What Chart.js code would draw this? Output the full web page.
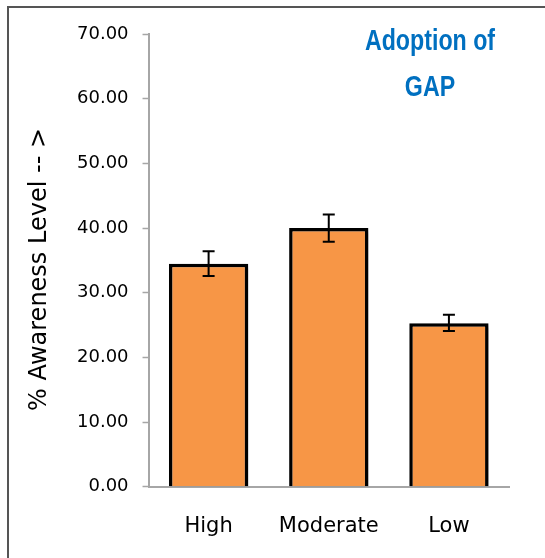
<!DOCTYPE html>
<html>
<head>
<script src="https://cdn.jsdelivr.net/npm/chart.js@4.4.0/dist/chart.umd.min.js"></script>
<style>
  body { margin: 0; background: #fff; }
  #frame {
    position: absolute; left: 0; top: 0; width: 545px; height: 558px;
  }
  #edge {
    position: absolute; left: 7px; top: 6px; width: 545px; height: 560px;
    border-left: 2px solid #555; border-top: 2px solid #555;
  }
</style>
</head>
<body>
<div id="edge"></div>
<div id="frame"><canvas id="awareChart" width="545" height="558"></canvas></div>
<script>
// values
var categories = ["High", "Moderate", "Low"];
var awareness = [34.5, 40.0, 25.3];
var errUpper = [36.4, 42.1, 26.6];
var errLower = [32.6, 37.9, 24.1];
var titleLines = ["Adoption of", "GAP"];
var yTitle = "% Awareness Level -- >";

// soft shadow behind the bars, like the office chart
var barShadow = {
  id: 'barShadow',
  beforeDatasetsDraw: function(chart) {
    var c = chart.ctx;
    c.save();
    c.shadowColor = 'rgba(0,0,0,0.35)';
    c.shadowBlur = 4;
    c.shadowOffsetX = 4;
    c.shadowOffsetY = 3;
  },
  afterDatasetsDraw: function(chart) {
    chart.ctx.restore();
  }
};

// error bars from the upper / lower arrays
var errorBars = {
  id: 'errorBars',
  afterDatasetsDraw: function(chart) {
    var c = chart.ctx;
    var y = chart.scales.y;
    var meta = chart.getDatasetMeta(0);
    c.save();
    c.strokeStyle = '#000';
    c.lineWidth = 2;
    meta.data.forEach(function(bar, i) {
      var top = y.getPixelForValue(errUpper[i]);
      var bot = y.getPixelForValue(errLower[i]);
      c.beginPath();
      c.moveTo(bar.x, top); c.lineTo(bar.x, bot);
      c.moveTo(bar.x - 6, top); c.lineTo(bar.x + 6, top);
      c.moveTo(bar.x - 6, bot); c.lineTo(bar.x + 6, bot);
      c.stroke();
    });
    c.restore();
  }
};

// blue title inside the plot (squeezed to look narrow) + the y axis title
var extraText = {
  id: 'extraText',
  afterDraw: function(chart) {
    var c = chart.ctx;
    var a = chart.chartArea;
    c.save();
    c.translate(a.right - 79, 0);
    c.scale(0.8, 1);
    c.fillStyle = '#0070C0';
    c.font = 'bold 29px "Liberation Sans", Arial, sans-serif';
    c.textAlign = 'center';
    c.textBaseline = 'middle';
    titleLines.forEach(function(t, i) {
      c.fillText(t, 0, a.top + 8 + i * 46);
    });
    c.restore();

    c.save();
    c.translate(40, a.top + (a.bottom - a.top) * 0.52);
    c.rotate(-Math.PI / 2);
    c.fillStyle = '#000';
    c.font = '24px "DejaVu Sans"';
    c.textAlign = 'center';
    c.textBaseline = 'middle';
    c.fillText(yTitle, 0, 0);
    c.restore();
  }
};

var ctx = document.getElementById("awareChart").getContext('2d');
var awareChart = new Chart(ctx, {
  type: 'bar',
  data: {
    labels: categories,
    datasets: [{
      data: awareness,
      backgroundColor: '#F79646',
      borderColor: '#000',
      borderWidth: 3.5,
      borderSkipped: 'bottom',
      barPercentage: 0.66,
      categoryPercentage: 1.0
    }]
  },
  options: {
    responsive: false,
    animation: false,
    layout: { padding: { left: 63, right: 36, top: 34, bottom: 0 } },
    plugins: {
      legend: { display: false },
      tooltip: { enabled: false }
    },
    scales: {
      x: {
        grid: { display: false },
        border: { color: '#a6a6a6', width: 2 },
        ticks: {
          color: '#000',
          padding: 19,
          font: { family: 'DejaVu Sans', size: 21 }
        }
      },
      y: {
        min: 0, max: 70,
        ticks: {
          stepSize: 10,
          color: '#000',
          padding: 14,
          font: { family: 'DejaVu Sans', size: 18 },
          callback: function(v) { return v.toFixed(2); }
        },
        grid: { drawOnChartArea: false, color: '#a6a6a6', tickLength: 6, tickWidth: 1.5 },
        border: { color: '#a6a6a6', width: 2 }
      }
    }
  },
  plugins: [barShadow, errorBars, extraText]
});
</script>
</body>
</html>
